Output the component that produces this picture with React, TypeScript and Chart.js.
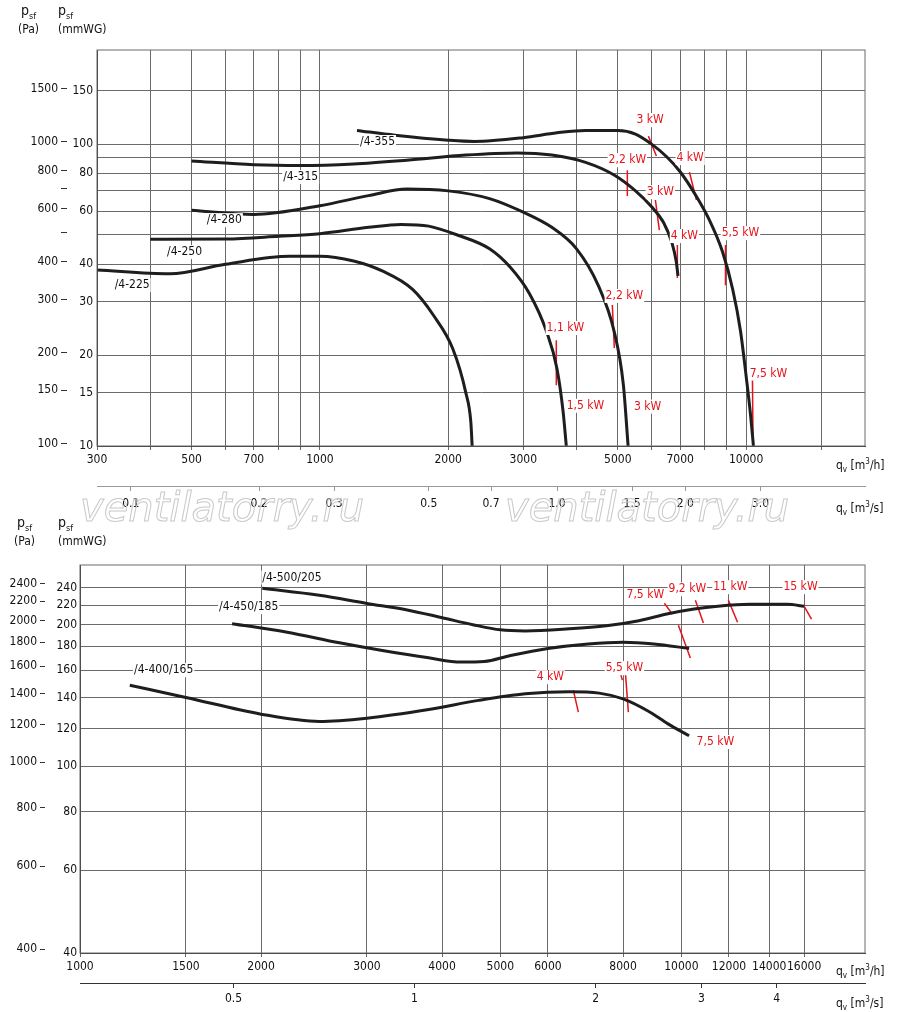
import React, { useEffect, useRef } from "react";
import { Chart, registerables } from "chart.js";
Chart.register(...registerables);

const FONT = "'Liberation Sans Narrow','DejaVu Sans Condensed',Roboto,sans-serif";
const PA = 9.80665;

// ---------- TOP CHART DATA ----------
const topQTicks = [300, 400, 500, 600, 700, 800, 900, 1000, 2000, 3000, 4000, 5000, 6000, 7000, 8000, 9000, 10000, 15000];
const topQLabels = ["300", "", "500", "", "700", "", "", "1000", "2000", "3000", "", "5000", "", "7000", "", "", "10000", ""];
const topSTicks = [0.1, 0.2, 0.3, 0.5, 0.7, 1.0, 1.5, 2.0, 3.0];
const topSLabels = ["0.1", "0.2", "0.3", "0.5", "0.7", "1.0", "1.5", "2.0", "3.0"];
const topMmTicks = [10, 15, 20, 30, 40, 50, 60, 70, 80, 90, 100, 150];
const topMmLabels = ["10", "15", "20", "30", "40", "", "60", "", "80", "", "100", "150"];
const topPaTicks = [100, 150, 200, 300, 400, 500, 600, 700, 800, 1000, 1500];
const topPaLabels = ["100", "150", "200", "300", "400", "", "600", "", "800", "1000", "1500"];

const c225q = [300, 445, 600, 850, 1000, 1200, 1400, 1650, 1850, 2050, 2200, 2260, 2276];
const c225p = [38.3, 37.2, 40, 42.5, 42.5, 41, 38, 33, 27, 21, 15, 12, 10];
const c250q = [400, 600, 800, 1000, 1300, 1550, 1800, 2100, 2500, 2800, 3100, 3400, 3600, 3720, 3785];
const c250p = [48.4, 48.5, 49.5, 50.5, 53, 54.2, 53.5, 50, 45, 39, 32, 24, 18, 13, 10];
const c280q = [500, 700, 1000, 1300, 1600, 2000, 2500, 3000, 3500, 4000, 4500, 4900, 5150, 5285];
const c280p = [60.4, 58.5, 62.5, 67.5, 71, 70, 66, 59.5, 53, 45, 34, 24, 16, 10];
const c315q = [500, 700, 900, 1200, 1600, 2200, 2900, 3500, 4200, 4900, 5500, 6000, 6400, 6700, 6850, 6920];
const c315p = [87.9, 85.5, 85, 86, 88.5, 92, 93.5, 92, 87, 79, 70, 62, 55, 47, 41, 36.6];
const c355q = [1222, 1500, 2000, 2300, 3000, 3600, 4200, 5000, 5500, 6000, 6500, 7000, 7600, 8200, 8800, 9300, 9700, 10000, 10250, 10400];
const c355p = [111, 107, 103, 102, 105, 109, 111, 111, 108, 100, 91, 81, 68, 56, 44, 33, 24, 17, 12.5, 10];

const topCurveNames = ["/4-225", "/4-250", "/4-280", "/4-315", "/4-355"];
const topCurveLabelQ = [330, 438, 543, 820, 1242];
const topCurveLabelP = [34.1, 43.9, 56, 77.8, 101.6];

// red power markers: line start/end (q,p), label (q,p)
const topKwText = ["3 kW", "2,2 kW", "4 kW", "3 kW", "4 kW", "5,5 kW", "2,2 kW", "1,1 kW", "1,5 kW", "3 kW", "7,5 kW"];
const topKwQ1 = [5896, 5263, 7360, 6124, 6896, 8942, 4853, 3586, 0, 0, 10345];
const topKwP1 = [106.3, 82.0, 80.8, 65.3, 46.3, 46.3, 29.3, 22.4, 0, 0, 16.5];
const topKwQ2 = [6157, 5263, 7643, 6256, 6896, 8942, 4906, 3586, 0, 0, 10380];
const topKwP2 = [91.3, 67.3, 65.3, 51.9, 36.0, 34.1, 21.1, 15.9, 0, 0, 10];
const topKwLQ = [5954, 5263, 7390, 6290, 7161, 9697, 5179, 3766, 4196, 5870, 11280];
const topKwLP = [120.1, 88.5, 89.9, 69.3, 49.6, 50.7, 31.4, 24.6, 13.6, 13.5, 17.4];

// ---------- BOTTOM CHART DATA ----------
const botQTicks = [1000, 1500, 2000, 3000, 4000, 5000, 6000, 8000, 10000, 12000, 14000, 16000];
const botSTicks = [0.5, 1, 2, 3, 4];
const botMmTicks = [40, 60, 80, 100, 120, 140, 160, 180, 200, 220, 240];
const botPaTicks = [400, 600, 800, 1000, 1200, 1400, 1600, 1800, 2000, 2200, 2400];

const b500q = [2010, 2500, 3000, 3500, 4000, 4500, 5000, 5500, 6500, 7500, 8500, 9500, 10500, 11500, 13000, 15000, 16000];
const b500p = [239, 231, 222, 215, 207, 200, 195, 194, 196, 199, 204, 211, 216, 219, 221, 221, 219];
const b450q = [1790, 2200, 2700, 3200, 3800, 4300, 4700, 5200, 6000, 7000, 8000, 9000, 10300];
const b450p = [201, 193, 183, 176, 170, 166.5, 167, 172, 178, 182, 183.5, 182, 178];
const b400q = [1210, 1500, 2000, 2500, 3000, 3800, 4600, 5500, 6500, 7300, 8000, 8800, 9500, 10300];
const b400p = [148.6, 140, 129, 124.5, 126.5, 132, 138, 142.5, 144, 143, 139, 131, 123, 116];

const botCurveNames = ["/4-500/205", "/4-450/185", "/4-400/165"];
const botCurveLabelQ = [2010, 1703, 1230];
const botCurveLabelP = [252, 218, 160];

const botKwText = ["4 kW", "5,5 kW", "", "7,5 kW", "", "9,2 kW", "11 kW", "15 kW", "7,5 kW"];
const botKwQ1 = [6612, 7826, 8070, 9370, 9886, 10550, 11970, 15960, 0];
const botKwP1 = [145.1, 166.4, 158.5, 222.2, 199.5, 225.6, 225.6, 220.1, 0];
const botKwQ2 = [6741, 7978, 8163, 9660, 10350, 10880, 12400, 16460, 0];
const botKwP2 = [130.3, 152.4, 130.3, 210.6, 169.8, 201.6, 202.5, 205.5, 0];
const botKwLQ = [6053, 8040, 0, 8711, 0, 10230, 12060, 15780, 11390];
const botKwLP = [154.6, 161.6, 0, 231, 0, 238, 240.4, 240.4, 112.5];

const zip = (q: number[], p: number[]) => q.map((x, i) => ({ x, y: p[i] }));
const RED = "#e3141b";
const GRID = "#6a6a6a";

function buildDatasets(curves: [number[], number[]][], kq1: number[], kp1: number[], kq2: number[], kp2: number[]) {
  const ds: any[] = curves.map(([q, p]) => ({
    data: zip(q, p), borderColor: "#1e1e1e", borderWidth: 3, pointRadius: 0,
    cubicInterpolationMode: "monotone", fill: false,
  }));
  kq1.forEach((q, i) => {
    if (!q) return;
    ds.push({ data: [{ x: q, y: kp1[i] }, { x: kq2[i], y: kp2[i] }], borderColor: RED, borderWidth: 1.5, pointRadius: 0 });
  });
  return ds;
}

function textPlugin(names: string[], nq: number[], np: number[], kt: string[], kq: number[], kp: number[]) {
  return {
    id: "txt",
    afterDatasetsDraw(chart: any) {
      const { ctx, chartArea: a, scales } = chart;
      ctx.save();
      ctx.strokeStyle = GRID; ctx.lineWidth = 1;
      ctx.strokeRect(a.left, a.top, a.right - a.left, a.bottom - a.top);
      ctx.font = `12px ${FONT}`;
      ctx.textBaseline = "middle";
      ctx.textAlign = "left";
      names.forEach((n, i) => {
        const x = scales.x.getPixelForValue(nq[i]);
        const y = scales.y.getPixelForValue(np[i]);
        const w = ctx.measureText(n).width;
        ctx.fillStyle = "#fff"; ctx.fillRect(x - 1, y - 7, w + 2, 14);
        ctx.fillStyle = "#111"; ctx.fillText(n, x, y);
      });
      ctx.textAlign = "center";
      kt.forEach((t, i) => {
        if (!t) return;
        const x = scales.x.getPixelForValue(kq[i]);
        const y = scales.y.getPixelForValue(kp[i]);
        const w = ctx.measureText(t).width;
        ctx.fillStyle = "#fff"; ctx.fillRect(x - w / 2 - 1, y - 7, w + 2, 14);
        ctx.fillStyle = RED; ctx.fillText(t, x, y);
      });
      ctx.restore();
    },
  };
}

const setTicks = (vals: number[]) => (s: any) => { s.ticks = vals.map((v) => ({ value: v })); };
const fit = (prop: "width" | "height", n: number) => (s: any) => { s[prop] = n; };
const tickFont = { family: FONT, size: 12 };

function ChartBox({ config, style }: { config: () => any; style: any }) {
  const ref = useRef<HTMLCanvasElement>(null);
  useEffect(() => {
    const c = new Chart(ref.current!, config());
    return () => c.destroy();
  }, []);
  return <div style={style}><canvas ref={ref} /></div>;
}

function topConfig() {
  return {
    type: "line",
    data: { datasets: buildDatasets([[c225q, c225p], [c250q, c250p], [c280q, c280p], [c315q, c315p], [c355q, c355p]], topKwQ1, topKwP1, topKwQ2, topKwP2) },
    plugins: [textPlugin(topCurveNames, topCurveLabelQ, topCurveLabelP, topKwText, topKwLQ, topKwLP)],
    options: {
      animation: false, responsive: true, maintainAspectRatio: false,
      layout: { padding: { top: 50, right: 35, left: 0, bottom: 0 } },
      plugins: { legend: { display: false }, tooltip: { enabled: false } },
      scales: {
        x: {
          type: "logarithmic", position: "bottom", min: 300, max: 19000, weight: 0,
          afterBuildTicks: setTicks(topQTicks), afterFit: fit("height", 40),
          ticks: { autoSkip: false, maxRotation: 0, color: "#111", font: tickFont, callback: (_v: any, i: number) => topQLabels[i] },
          grid: { color: GRID, tickLength: 4 }, border: { color: "#333" },
        },
        xs: {
          type: "logarithmic", position: "bottom", min: 300 / 3600, max: 19000 / 3600, weight: 1,
          afterBuildTicks: setTicks(topSTicks), afterFit: fit("height", 34),
          ticks: { autoSkip: false, maxRotation: 0, color: "#111", font: tickFont, padding: 6, callback: (_v: any, i: number) => topSLabels[i] },
          grid: { drawOnChartArea: false, color: "#999", tickLength: 5 }, border: { color: "#999" },
        },
        y: {
          type: "logarithmic", position: "left", min: 10, max: 205, weight: 0,
          afterBuildTicks: setTicks(topMmTicks), afterFit: fit("width", 30),
          ticks: { autoSkip: false, color: "#111", font: tickFont, padding: 4, callback: (_v: any, i: number) => topMmLabels[i] },
          grid: { color: GRID, tickLength: 0 }, border: { color: "#333" },
        },
        yp: {
          type: "logarithmic", position: "left", min: 10 * PA, max: 205 * PA, weight: 1,
          afterBuildTicks: setTicks(topPaTicks), afterFit: fit("width", 67),
          ticks: { autoSkip: false, color: "#111", font: tickFont, padding: 3, callback: (_v: any, i: number) => topPaLabels[i] },
          grid: { drawOnChartArea: false, color: "#333", tickLength: 6 }, border: { display: false },
        },
      },
    },
  };
}

function botConfig() {
  return {
    type: "line",
    data: { datasets: buildDatasets([[b500q, b500p], [b450q, b450p], [b400q, b400p]], botKwQ1, botKwP1, botKwQ2, botKwP2) },
    plugins: [textPlugin(botCurveNames, botCurveLabelQ, botCurveLabelP, botKwText, botKwLQ, botKwLP)],
    options: {
      animation: false, responsive: true, maintainAspectRatio: false,
      layout: { padding: { top: 45, right: 35, left: 0, bottom: 0 } },
      plugins: { legend: { display: false }, tooltip: { enabled: false } },
      scales: {
        x: {
          type: "logarithmic", position: "bottom", min: 1000, max: 20200, weight: 0,
          afterBuildTicks: setTicks(botQTicks), afterFit: fit("height", 30),
          ticks: { autoSkip: false, maxRotation: 0, color: "#111", font: tickFont, callback: (v: any) => String(v) },
          grid: { color: GRID, tickLength: 4 }, border: { color: "#333" },
        },
        xs: {
          type: "logarithmic", position: "bottom", min: 1000 / 3600, max: 20200 / 3600, weight: 1,
          afterBuildTicks: setTicks(botSTicks), afterFit: fit("height", 29),
          ticks: { autoSkip: false, maxRotation: 0, color: "#111", font: tickFont, padding: 4, callback: (v: any) => String(v) },
          grid: { drawOnChartArea: false, color: "#333", tickLength: 5 }, border: { color: "#333" },
        },
        y: {
          type: "logarithmic", position: "left", min: 40, max: 268, weight: 0,
          afterBuildTicks: setTicks(botMmTicks), afterFit: fit("width", 35),
          ticks: { autoSkip: false, color: "#111", font: tickFont, padding: 3, callback: (v: any) => String(v) },
          grid: { color: GRID, tickLength: 0 }, border: { color: "#333" },
        },
        yp: {
          type: "logarithmic", position: "left", min: 40 * PA, max: 268 * PA, weight: 1,
          afterBuildTicks: setTicks(botPaTicks), afterFit: fit("width", 45),
          ticks: { autoSkip: false, color: "#111", font: tickFont, padding: 3, callback: (v: any) => String(v) },
          grid: { drawOnChartArea: false, color: "#333", tickLength: 5 }, border: { display: false },
        },
      },
    },
  };
}

const lbl = (x: number, y: number, extra: any = {}) => ({
  position: "absolute" as const, left: x, top: y, fontFamily: FONT, fontSize: 12, color: "#111", lineHeight: "13px", ...extra,
});

function PLabel({ x, y, unit }: { x: number; y: number; unit: string }) {
  return (
    <div style={lbl(x, y, { textAlign: "center" })}>
      <span style={{ fontSize: 14 }}>p<sub style={{ fontSize: 9 }}>sf</sub></span><br />({unit})
    </div>
  );
}

function Qv({ x, y, unit }: { x: number; y: number; unit: string }) {
  return <div style={lbl(x, y)}>q<sub style={{ fontSize: 8 }}>v</sub> [m<sup style={{ fontSize: 8 }}>3</sup>/{unit}]</div>;
}

const wm = {
  position: "absolute" as const, fontFamily: "'DejaVu Sans',sans-serif", fontStyle: "italic", fontSize: 40,
  color: "transparent", WebkitTextStroke: "1px #c9c9c9", whiteSpace: "nowrap" as const,
};

export default function App() {
  return (
    <div style={{ position: "absolute", left: 0, top: 0, width: 900, height: 1012, background: "#fff", overflow: "hidden" }}>
      <ChartBox config={topConfig} style={{ position: "absolute", left: 0, top: 0, width: 900, height: 520 }} />
      <ChartBox config={botConfig} style={{ position: "absolute", left: 0, top: 520, width: 900, height: 492 }} />
      <div style={{ ...wm, left: 80, top: 484 }}>ventilatorry.ru</div>
      <div style={{ ...wm, left: 505, top: 484 }}>ventilatorry.ru</div>
      <PLabel x={18} y={4} unit="Pa" />
      <div style={lbl(58, 4)}><span style={{ fontSize: 14 }}>p<sub style={{ fontSize: 9 }}>sf</sub></span><br />(mmWG)</div>
      <PLabel x={14} y={516} unit="Pa" />
      <div style={lbl(58, 516)}><span style={{ fontSize: 14 }}>p<sub style={{ fontSize: 9 }}>sf</sub></span><br />(mmWG)</div>
      <Qv x={836} y={455} unit="h" />
      <Qv x={836} y={498} unit="s" />
      <Qv x={836} y={961} unit="h" />
      <Qv x={836} y={993} unit="s" />
    </div>
  );
}
